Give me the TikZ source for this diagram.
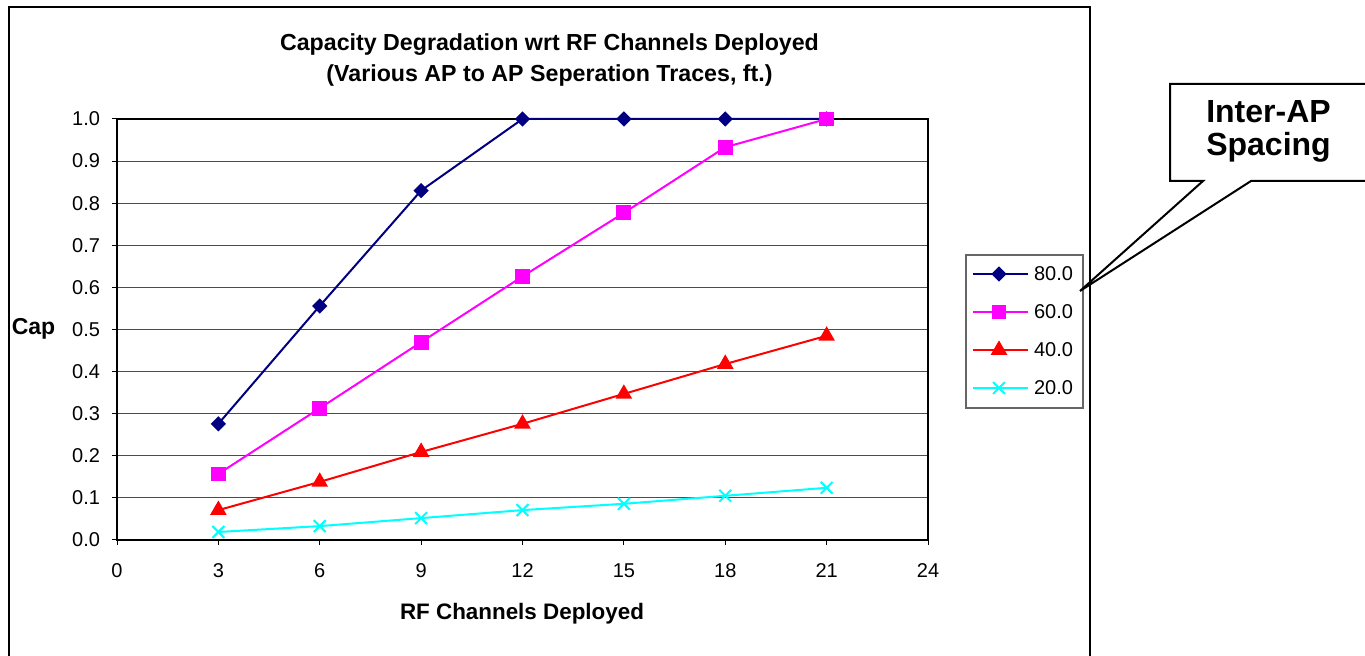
\documentclass[tikz,border=0pt]{standalone}
\usepackage{fontspec}
\setmainfont{Liberation Sans}
\usetikzlibrary{plotmarks}
\definecolor{navytrace}{RGB}{0,0,128}
\definecolor{pinktrace}{RGB}{255,0,255}
\definecolor{redtrace}{RGB}{255,0,0}
\definecolor{cyantrace}{RGB}{0,255,255}
\begin{document}
\begin{tikzpicture}[x=0.5pt,y=-0.5pt,inner sep=0pt,outer sep=0pt,
ticklabel/.style={font=\fontsize{10}{12}\selectfont},
boldlabel/.style={font=\fontsize{11.2}{13}\selectfont\bfseries},
gridline/.style={draw=black!70,line width=0.5pt},
trace/.style={line width=1pt}]
\useasboundingbox (0,0) rectangle (1365,656);
\clip (0,0) rectangle (1365,656);
\fill[white] (0,0) rectangle (1365,656);
\draw[line width=0.6pt] (9,670) -- (9,7) -- (1090,7) -- (1090,670);
% titles
\draw (549.5,51) node[anchor=base,boldlabel,font=\fontsize{11.6}{13}\selectfont\bfseries] (title) {Capacity Degradation wrt RF Channels Deployed};
\draw (549.5,82) node[anchor=base,boldlabel,font=\fontsize{11.6}{13}\selectfont\bfseries] (subtitle) {(Various AP to AP Seperation Traces, ft.)};
\draw (522,620) node[anchor=base,boldlabel] (xlabel) {RF Channels Deployed};
\draw (33.5,335) node[anchor=base,boldlabel,font=\fontsize{11.5}{13}\selectfont\bfseries] (ylabel) {Cap};
% plot area
\begin{scope}[shift={(117,540)},x=16.896pt,y=210.5pt]
\foreach \i in {1,...,9}
  \draw[gridline] (0,\i/10) -- (24,\i/10);
\foreach \v in {0.0,0.1,0.2,0.3,0.4,0.5,0.6,0.7,0.8,0.9,1.0} {
  \draw[line width=0.5pt] ([xshift=-2.5pt]0,\v) -- (0,\v);
  \draw ([xshift=-8.5pt]0,\v) node[anchor=east,ticklabel] {\v};
}
\foreach \x in {0,3,...,24} {
  \draw[line width=0.5pt] (\x,0) -- ([yshift=-2.5pt]\x,0);
  \draw ([yshift=-19pt]\x,0) node[anchor=base,ticklabel] {\x};
}
\draw[line width=1pt] (0,0) rectangle (24,1);
\draw[trace,navytrace] plot[mark=square*,mark size=2.2pt,mark options={fill=navytrace,rotate=45}]
  coordinates {(3,0.276) (6,0.556) (9,0.830) (12,1) (15,1) (18,1) (21,1)};
\draw[trace,pinktrace] plot[mark=square*,mark size=3.2pt,mark options={fill=pinktrace}]
  coordinates {(3,0.157) (6,0.313) (9,0.470) (12,0.626) (15,0.777) (18,0.933) (21,1)};
\draw[trace,redtrace] plot[mark=triangle*,mark size=3.8pt,mark options={fill=redtrace}]
  coordinates {(3,0.071) (6,0.138) (9,0.209) (12,0.276) (15,0.347) (18,0.418) (21,0.485)};
\draw[trace,cyantrace] plot[mark=x,mark size=4.2pt]
  coordinates {(3,0.019) (6,0.033) (9,0.052) (12,0.071) (15,0.086) (18,0.105) (21,0.124)};
\end{scope}
% legend
\draw[draw=black!60,line width=0.6pt,fill=white] (966,255) rectangle (1083,408);
\foreach \y/\c/\m/\s/\r/\t in {274/navytrace/square*/2.2pt/45/80.0,312/pinktrace/square*/3.2pt/0/60.0,350/redtrace/triangle*/3.8pt/0/40.0,388/cyantrace/x/4.2pt/0/20.0} {
  \draw[trace,\c] (973,\y) -- (1028,\y);
  \draw[trace,\c] plot[mark=\m,mark size=\s,mark options={fill=\c,rotate=\r}] coordinates {(999,\y)};
  \draw (1034,\y) node[anchor=west,ticklabel] {\t};
}
% callout
\coordinate (tip) at (1080,291);
\draw[line width=1pt,fill=white,line join=miter] (1380,181) -- (1251,181) -- (tip) -- (1203,181) -- (1170,181) -- (1170,84) -- (1380,84);
\draw (1268.5,131) node[align=center,font=\fontsize{16}{16.5}\selectfont\bfseries] (callout) {Inter-AP\\Spacing};
\end{tikzpicture}
\end{document}
